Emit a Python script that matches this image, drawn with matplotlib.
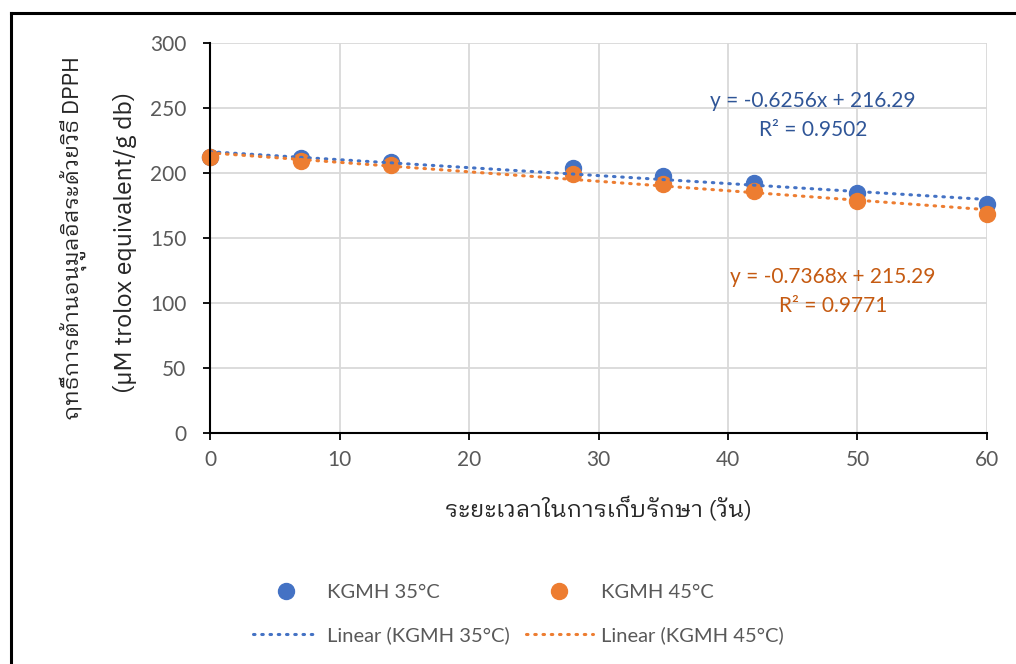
import matplotlib
matplotlib.use("Agg")
import matplotlib.pyplot as plt
from matplotlib import font_manager
from matplotlib.ft2font import FT2Font
from matplotlib.lines import Line2D
import numpy as np

# ---- data ----
days = [0, 7, 14, 28, 35, 42, 50, 60]
kgmh35 = [212.5, 211.5, 208.7, 203.6, 197.7, 192.0, 184.4, 176.0]
kgmh45 = [212.5, 209.5, 206.0, 199.5, 191.5, 186.0, 178.5, 168.5]
eq35 = ["y = -0.6256x + 216.29", "R² = 0.9502"]
eq45 = ["y = -0.7368x + 215.29", "R² = 0.9771"]
series_labels = ["KGMH 35°C", "KGMH 45°C"]
trend_labels = ["Linear (KGMH 35°C)", "Linear (KGMH 45°C)"]
xlabel = "ระยะเวลาในการเก็บรักษา (วัน)"
ylabel1 = "ฤทธิ์การต้านอนุมูลอิสระด้วยวิธี DPPH"
ylabel2 = "(µM trolox equivalent/g db)"

# ---- find a font with Thai glyphs (prefer looped, regular weight) ----
thai_fams = {}
for fe in font_manager.fontManager.ttflist:
    try:
        cm = FT2Font(fe.fname).get_charmap()
        if 0x0E01 in cm and 0x0E34 in cm:
            thai_fams.setdefault(fe.name, []).append(fe.weight)
    except Exception:
        pass
prio = ["Looped", "Tahoma", "Loma", "Garuda", "Waree", "Tlwg", "Sarabun", "Noto"]
thai_font = None
for key in prio:
    for name in thai_fams:
        if key in name:
            thai_font = name
            break
    if thai_font:
        break
if thai_font is None and thai_fams:
    thai_font = sorted(thai_fams)[0]

base = "Lato"
fam = [base, "DejaVu Sans"] if thai_font is None else [thai_font, base, "DejaVu Sans"]
plt.rcParams['font.family'] = [base, "DejaVu Sans"]

blue = "#4472C4"
orange = "#ED7D31"
blue_txt = "#2F5597"
orange_txt = "#C55A11"
grey_txt = "#595959"

fig = plt.figure(figsize=(10.16, 6.64), dpi=100)
ax = fig.add_axes([210/1016, 1-433/664, (987-210)/1016, (433-43)/664])

ax.set_xlim(0, 60)
ax.set_ylim(0, 300)
ax.set_xticks(range(0, 61, 10))
ax.set_yticks(range(0, 301, 50))
ax.grid(True, color="#d9d9d9", linewidth=1.3)
ax.set_axisbelow(True)
for s in ["top", "right"]:
    ax.spines[s].set_visible(False)
for s in ["left", "bottom"]:
    ax.spines[s].set_color("black")
    ax.spines[s].set_linewidth(1.5)
    ax.spines[s].set_zorder(5)
ax.tick_params(axis="both", colors="black", labelcolor=grey_txt, labelsize=15,
               length=5, width=1.3, direction="out")
ax.tick_params(axis="x", pad=7)
ax.tick_params(axis="y", pad=12)

x = np.array(days, dtype=float)
xx = np.array([0.0, 60.0])
for ys, col in [(kgmh35, blue), (kgmh45, orange)]:
    ax.plot(x, ys, 'o', color=col, ms=11.5, zorder=3, clip_on=False)
    p = np.polyfit(x, ys, 1)
    ax.plot(xx, np.polyval(p, xx), color=col, lw=2.2, linestyle=(0, (0.5, 2.2)),
            dash_capstyle="round", zorder=4)

for txt, (px, py), col in [(eq35[0], (813, 101), blue_txt), (eq35[1], (813, 130), blue_txt),
                           (eq45[0], (833, 277), orange_txt), (eq45[1], (833, 306), orange_txt)]:
    fig.text(px/1016, 1-py/664, txt, ha="center", va="center", color=col, fontsize=15)

fig.text(598/1016, 1-510/664, xlabel, ha="center", va="center", color="#262626",
         fontsize=16.7, family=fam, fontweight="normal")
fig.text(73/1016, 1-238/664, ylabel1, ha="center", va="center", rotation=90,
         color="#262626", fontsize=16, family=fam, fontweight="normal")
fig.text(125/1016, 1-242/664, ylabel2, ha="center", va="center", rotation=90,
         color="#262626", fontsize=17.8, family=fam, fontweight="normal")

h_s35 = Line2D([], [], marker='o', color=blue, ms=11.5, linestyle='none')
h_s45 = Line2D([], [], marker='o', color=orange, ms=11.5, linestyle='none')
h_l35 = Line2D([], [], color=blue, lw=2.2, linestyle=(0, (0.5, 2.2)), dash_capstyle="round")
h_l45 = Line2D([], [], color=orange, lw=2.2, linestyle=(0, (0.5, 2.2)), dash_capstyle="round")
leg = fig.legend([h_s35, h_l35, h_s45, h_l45],
                 [series_labels[0], trend_labels[0], series_labels[1], trend_labels[1]],
                 ncol=2, loc="center", bbox_to_anchor=(518/1016, 1-614/664),
                 frameon=False, fontsize=14.5, handlelength=3.3, handletextpad=0.4,
                 columnspacing=0.8, labelspacing=1.25)
for t in leg.get_texts():
    t.set_color(grey_txt)

# outer border
fig.add_artist(Line2D([11/1016, 11/1016], [0, 1-13/664], transform=fig.transFigure,
                      color="black", lw=2.2))
fig.add_artist(Line2D([11/1016, 1], [1-13/664, 1-13/664], transform=fig.transFigure,
                      color="black", lw=2.2))

fig.savefig("out.png", dpi=100)
